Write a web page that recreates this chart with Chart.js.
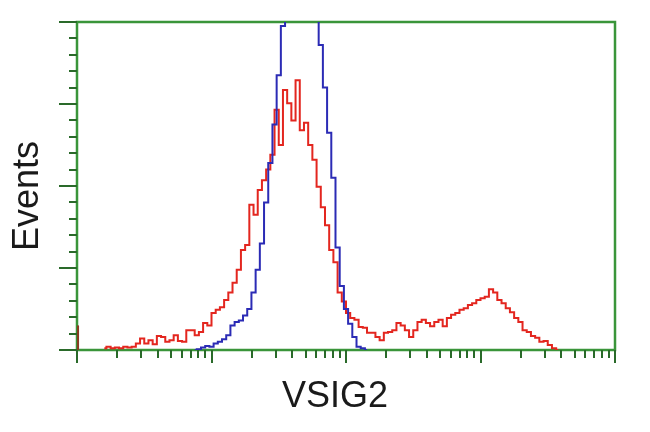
<!DOCTYPE html>
<html>
<head>
<meta charset="utf-8">
<script src="https://cdn.jsdelivr.net/npm/chart.js@4/dist/chart.umd.min.js"></script>
<style>
  html, body { margin: 0; padding: 0; background: #ffffff; }
  #wrap { width: 650px; height: 432px; position: relative; }
</style>
</head>
<body>
<div id="wrap"><canvas id="histo"></canvas></div>
<script>
// ── DATA (channel bins, 256 channels over 4 log decades) ──
const binStep = 2;
const channelMax = 256;
const channelsPerDecade = 64;
const countMax = 400;

// sample (red)
const redStartBin = 13;
const redCounts = [
  2, 4, 2, 3, 2, 4, 3, 4, 8, 14, 8, 12, 7, 17, 16, 10, 12, 18,
  11, 10, 24, 24, 18, 22, 33, 30, 45, 49, 52, 61, 70, 82, 98, 122, 128, 177, 165, 195,
  207, 220, 238, 293, 250, 317, 301, 280, 329, 268, 277, 250, 232, 199, 174, 152, 122, 107,
  70, 59, 45, 39, 37, 28, 27, 21, 21, 16, 12, 21, 22, 24, 33, 30, 24, 16, 24, 34, 37, 33,
  29, 34, 37, 29, 39, 43, 45, 49, 51, 55, 57, 61, 63, 65, 74, 70, 61, 57, 51, 46,
  39, 34, 24, 22, 17, 15, 10, 11, 6, 2, 0
];
// events piled in the first channel
const redFirstChannel = 0.5;
const redFirstCount = 30;

// control (blue)
const blueStartBin = 56;
const blueCounts = [
  0, 1, 3, 5, 4, 8, 10, 13, 18, 30, 34, 36, 42, 50, 70, 98, 130, 180, 228, 275,
  335, 395, 450, 490, 510, 515, 505, 480, 445, 405, 372, 320, 265, 210, 125, 78,
  50, 32, 16, 4, 2, 0
];

// ── TICKS ──
const yMajorTicks = [0, 100, 200, 300, 400];
const yMinorStep = 20;
const xDecades = [0, 1, 2, 3, 4];
const xMinorFactors = [2, 3, 4, 5, 6, 7, 8, 9];

const xTitle = 'VSIG2';
const yTitle = 'Events';

const GREEN = '#3a953a';
const TICK = '#2a6a2a';
const RED = '#e3261f';
const BLUE = '#2b2bb5';

const toPoints = (start, counts) => counts.map((c, i) => ({ x: start + i * binStep, y: c }));

// ── FRAME, TICKS, AXIS TITLES ──
const cytoFrame = {
  id: 'cytoFrame',
  beforeDatasetsDraw(chart) {
    const { ctx, chartArea: a, scales: { x, y } } = chart;
    ctx.save();
    ctx.strokeStyle = GREEN;
    ctx.lineWidth = 2.5;
    ctx.strokeRect(a.left, a.top, a.right - a.left, a.bottom - a.top);

    ctx.strokeStyle = TICK;
    ctx.lineWidth = 2;
    ctx.beginPath();
    // y ticks
    for (let v = 0; v <= countMax; v += yMinorStep) {
      const py = Math.round(y.getPixelForValue(v));
      const len = yMajorTicks.includes(v) ? 18 : 8;
      ctx.moveTo(a.left - len, py);
      ctx.lineTo(a.left, py);
    }
    // x ticks (log decades)
    xDecades.forEach(d => {
      const px = Math.round(x.getPixelForValue(d * channelsPerDecade));
      ctx.moveTo(px, a.bottom);
      ctx.lineTo(px, a.bottom + 13);
      if (d === xDecades[xDecades.length - 1]) return;
      xMinorFactors.forEach(k => {
        const mx = Math.round(x.getPixelForValue((d + Math.log10(k)) * channelsPerDecade));
        ctx.moveTo(mx, a.bottom);
        ctx.lineTo(mx, a.bottom + 8);
      });
    });
    ctx.stroke();
    ctx.restore();
  },
  afterDraw(chart) {
    const { ctx } = chart;
    ctx.save();
    ctx.fillStyle = '#1a1a1a';
    ctx.font = "36px 'Liberation Sans', Arial, sans-serif";
    ctx.textAlign = 'center';
    ctx.textBaseline = 'alphabetic';
    ctx.fillText(xTitle, 335, 407);
    ctx.translate(38, 196);
    ctx.rotate(-Math.PI / 2);
    ctx.fillText(yTitle, 0, 0);
    ctx.restore();
  }
};

const lineStyle = (color, width) => ({
  borderColor: color,
  backgroundColor: 'transparent',
  borderWidth: width,
  pointRadius: 0,
  tension: 0,
  stepped: 'middle',
  clip: 0
});

new Chart(document.getElementById('histo'), {
  type: 'line',
  data: {
    datasets: [
      { label: 'control', data: toPoints(blueStartBin, blueCounts), ...lineStyle(BLUE, 2) },
      { label: 'VSIG2', data: toPoints(redStartBin, redCounts), ...lineStyle(RED, 2) },
      {
        label: 'first channel',
        data: [{ x: redFirstChannel, y: 0 }, { x: redFirstChannel, y: redFirstCount }],
        ...lineStyle('#8a3a20', 2),
        stepped: false
      }
    ]
  },
  options: {
    animation: false,
    responsive: true,
    maintainAspectRatio: false,
    layout: { padding: { left: 77, top: 22, right: 35, bottom: 82 } },
    plugins: { legend: { display: false }, tooltip: { enabled: false } },
    scales: {
      x: { type: 'linear', min: 0, max: channelMax, display: false },
      y: { min: 0, max: countMax, display: false }
    }
  },
  plugins: [cytoFrame]
});
</script>
</body>
</html>
